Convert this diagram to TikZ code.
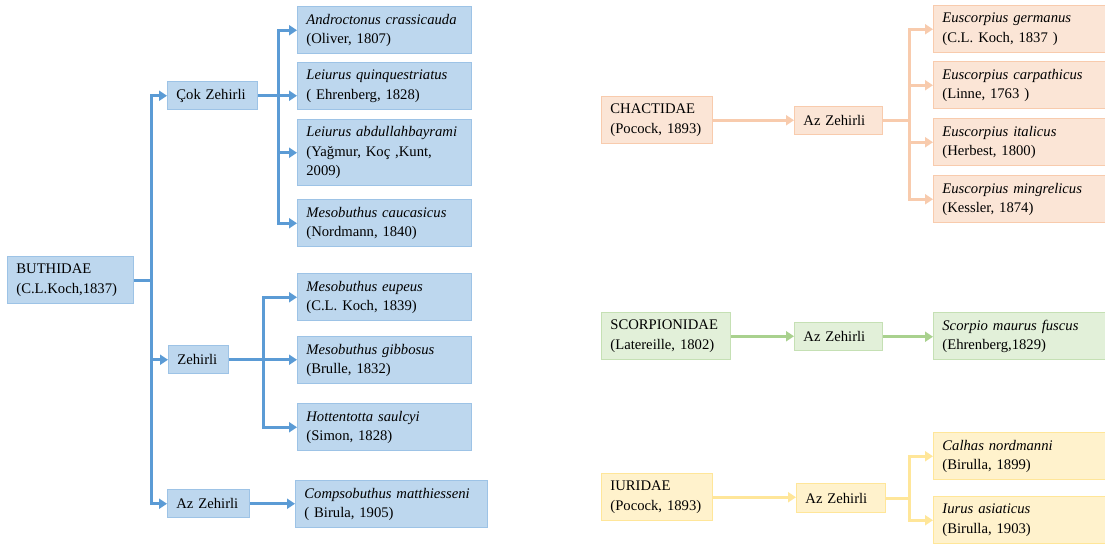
\documentclass[tikz,border=0pt]{standalone}
\usepackage{fontspec}
\setmainfont{Liberation Serif}
\usepackage{xcolor}
\usetikzlibrary{arrows.meta}

\definecolor{bline}{HTML}{5B9BD5}
\definecolor{bfill}{HTML}{BDD7EE}
\definecolor{bborder}{HTML}{9DC3E6}
\definecolor{oline}{HTML}{F8CBAD}
\definecolor{ofill}{HTML}{FBE5D6}
\definecolor{gline}{HTML}{A9D18E}
\definecolor{gfill}{HTML}{E2F0D9}
\definecolor{gborder}{HTML}{C5E0B4}
\definecolor{yline}{HTML}{FFE699}
\definecolor{yfill}{HTML}{FFF2CC}

\tikzset{
  box/.style={rectangle, anchor=north west, align=left, inner xsep=6.5pt, inner ysep=0pt,
    line width=1.1pt, font=\fontsize{11}{14.5}\selectfont},
  bluebox/.style={box, draw=bborder, fill=bfill},
  peachbox/.style={box, draw=oline, fill=ofill},
  greenbox/.style={box, draw=gborder, fill=gfill},
  yellowbox/.style={box, draw=yline, fill=yfill},
  tall/.style={minimum height=35.25pt},
  low/.style={minimum height=21pt},
  stem/.style={line width=2.25pt},
  link/.style={line width=2.25pt, -{Triangle[length=6pt,width=7.5pt]}}
}

\begin{document}
\begin{tikzpicture}[x=0.75pt, y=-0.75pt]

\useasboundingbox (0,0) rectangle (1105,543);

\node[bluebox, tall, text width=81.5pt] (buth) at (7,256) {BUTHIDAE\\(C.L.Koch,1837)};
\node[bluebox, low, text width=54.5pt] (cok) at (167,81) {Çok Zehirli};
\node[bluebox, low, text width=32pt] (zeh) at (168,345) {Zehirli};
\node[bluebox, low, text width=48.5pt] (azb) at (167,489) {Az Zehirli};

\node[bluebox, tall, text width=117.5pt] (andro) at (297,6) {\textit{Androctonus crassicauda}\\(Oliver, 1807)};
\node[bluebox, tall, text width=117.5pt] (quinq) at (297,62) {\textit{Leiurus quinquestriatus}\\( Ehrenberg, 1828)};
\node[bluebox, minimum height=49.5pt, text width=117.5pt] (abdul) at (297,119) {\textit{Leiurus abdullahbayrami}\\(Yağmur, Koç ,Kunt,\\2009)};
\node[bluebox, tall, text width=117.5pt] (cauc) at (297,199) {\textit{Mesobuthus caucasicus}\\(Nordmann, 1840)};
\node[bluebox, tall, text width=117.5pt] (eup) at (297,273) {\textit{Mesobuthus eupeus}\\(C.L. Koch, 1839)};
\node[bluebox, tall, text width=117.5pt] (gibb) at (297,336) {\textit{Mesobuthus gibbosus}\\(Brulle, 1832)};
\node[bluebox, tall, text width=117.5pt] (hott) at (297,403) {\textit{Hottentotta saulcyi}\\(Simon, 1828)};
\node[bluebox, tall, text width=131pt] (comp) at (295,480) {\textit{Compsobuthus matthiesseni}\\( Birula, 1905)};

\coordinate (bj) at ([xshift=12.75pt]buth.east);
\coordinate (cj) at ([xshift=15pt]cok.east);
\coordinate (zj) at ([xshift=25.5pt]zeh.east);

\path[draw=bline, stem] (buth.east) -- (bj);
\path[draw=bline, link] (bj) |- (cok.west);
\path[draw=bline, link] (bj) |- (zeh.west);
\path[draw=bline, link] (bj) |- (azb.west);
\path[draw=bline, stem] (cok.east) -- (cj);
\path[draw=bline, link] (cj) |- (andro.west);
\path[draw=bline, link] (cj) -- (quinq.west |- cj);
\path[draw=bline, link] (cj) |- (abdul.west);
\path[draw=bline, link] (cj) |- (cauc.west);
\path[draw=bline, stem] (zeh.east) -- (zj);
\path[draw=bline, link] (zj) |- (eup.west);
\path[draw=bline, link] (zj) -- (gibb.west |- zj);
\path[draw=bline, link] (zj) |- (hott.west);
\path[draw=bline, link] (azb.east) -- (azb.east -| comp.west);

\node[peachbox, tall, text width=70.25pt] (chact) at (601,96) {CHACTIDAE\\(Pocock, 1893)};
\node[peachbox, low, text width=53pt] (oaz) at (794,106) {Az Zehirli};
\node[peachbox, tall, text width=119.75pt] (germ) at (933,5) {\textit{Euscorpius germanus}\\(C.L. Koch, 1837 )};
\node[peachbox, tall, text width=119.75pt] (carp) at (933,61) {\textit{Euscorpius carpathicus}\\(Linne, 1763 )};
\node[peachbox, tall, text width=119.75pt] (ital) at (933,118) {\textit{Euscorpius italicus}\\(Herbest, 1800)};
\node[peachbox, tall, text width=119.75pt] (ming) at (933,175) {\textit{Euscorpius mingrelicus}\\(Kessler, 1874)};

\coordinate (oj) at ([xshift=19.5pt]oaz.east);

\path[draw=oline, link] (chact.east) -- (chact.east -| oaz.west);
\path[draw=oline, stem] (oaz.east) -- (oj);
\path[draw=oline, link] (oj) |- (germ.west);
\path[draw=oline, link] (oj) |- (carp.west);
\path[draw=oline, link] (oj) |- (ital.west);
\path[draw=oline, link] (oj) |- (ming.west);

\node[greenbox, tall, text width=83.75pt] (scorp) at (601,312) {SCORPIONIDAE\\(Latereille, 1802)};
\node[greenbox, low, text width=53pt] (gaz) at (794,322) {Az Zehirli};
\node[greenbox, tall, text width=119.75pt] (smf) at (933,312) {\textit{Scorpio maurus fuscus}\\(Ehrenberg,1829)};

\path[draw=gline, link] (scorp.east) -- (scorp.east -| gaz.west);
\path[draw=gline, link] (gaz.east) -- (gaz.east -| smf.west);

\node[yellowbox, tall, text width=70.25pt] (iurid) at (601,473) {IURIDAE\\(Pocock, 1893)};
\node[yellowbox, minimum height=21.75pt, text width=53.75pt] (yaz) at (796,483) {Az Zehirli};
\node[yellowbox, tall, text width=119.75pt] (calh) at (933,432) {\textit{Calhas nordmanni}\\(Birulla, 1899)};
\node[yellowbox, tall, text width=119.75pt] (iurus) at (933,496) {\textit{Iurus asiaticus}\\(Birulla, 1903)};

\coordinate (yj) at ([xshift=17.25pt]yaz.east);

\path[draw=yline, link] (iurid.east) -- (iurid.east -| yaz.west);
\path[draw=yline, stem] (yaz.east) -- (yj);
\path[draw=yline, link] (yj) |- (calh.west);
\path[draw=yline, link] (yj) |- (iurus.west);

\end{tikzpicture}
\end{document}
